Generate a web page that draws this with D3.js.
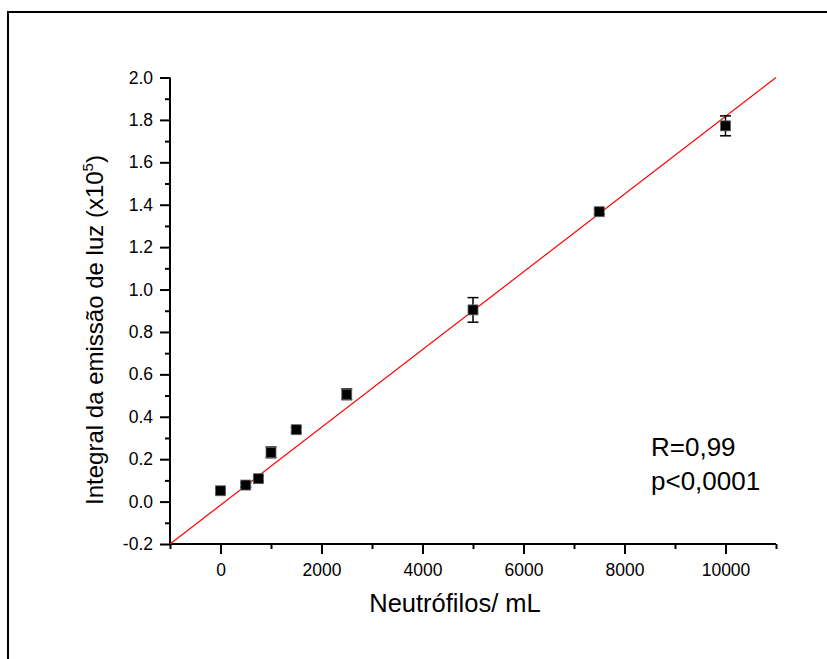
<!DOCTYPE html>
<html>
<head>
<meta charset="utf-8">
<script src="https://cdn.jsdelivr.net/npm/d3@7"></script>
<style>
  html, body { margin: 0; padding: 0; background: #fff; }
  svg { display: block; }
  text { font-family: "Liberation Sans", Arial, sans-serif; fill: #000; }
</style>
</head>
<body>
<svg id="chart" width="827" height="659"></svg>
<script>
// ---- Data ----
const neutrophils = [0, 500, 750, 1000, 1500, 2500, 5000, 7500, 10000];
const lightIntegral = [0.051, 0.078, 0.108, 0.232, 0.339, 0.506, 0.904, 1.367, 1.772];
const lightError = [0.010, 0.010, 0.012, 0.025, 0.012, 0.025, 0.058, 0.012, 0.047];
const fitX = [-1000, 11000];
const fitY = [-0.2, 2.0];
const xMajorTicks = [0, 2000, 4000, 6000, 8000, 10000];
const xMinorTicks = [-1000, 1000, 3000, 5000, 7000, 9000, 11000];
const yMajorTicks = [-0.2, 0.0, 0.2, 0.4, 0.6, 0.8, 1.0, 1.2, 1.4, 1.6, 1.8, 2.0];
const yMinorTicks = [-0.1, 0.1, 0.3, 0.5, 0.7, 0.9, 1.1, 1.3, 1.5, 1.7, 1.9];
const statsText = ["R=0,99", "p<0,0001"];

// ---- Layout ----
const svg = d3.select("#chart");
const x = d3.scaleLinear().domain([-1000, 11000]).range([170, 776]);
const y = d3.scaleLinear().domain([-0.2, 2.0]).range([544, 77.5]);

// frame (top & left border only)
svg.append("line").attr("x1", 8).attr("x2", 827).attr("y1", 12).attr("y2", 12)
  .attr("stroke", "#000").attr("stroke-width", 2);
svg.append("line").attr("x1", 8).attr("x2", 8).attr("y1", 11).attr("y2", 659)
  .attr("stroke", "#000").attr("stroke-width", 2);

// X axis
const xAxisG = svg.append("g").attr("transform", "translate(0,544)");
xAxisG.call(d3.axisBottom(x).tickValues(xMajorTicks).tickSize(10).tickPadding(10)
  .tickFormat(d => String(d)));
xAxisG.append("g").call(d3.axisBottom(x).tickValues(xMinorTicks).tickSize(5).tickFormat(""))
  .select(".domain").remove();
xAxisG.selectAll(".domain").attr("stroke-width", 2).attr("d", "M" + x.range()[0] + ",0H" + x.range()[1]);
xAxisG.selectAll(".tick line").attr("stroke-width", 2);
xAxisG.selectAll("text").style("font-size", "17.5px").style("font-family", "'Liberation Sans', Arial, sans-serif");

// Y axis
const yAxisG = svg.append("g").attr("transform", "translate(170,0)");
yAxisG.call(d3.axisLeft(y).tickValues(yMajorTicks).tickSize(10).tickPadding(7)
  .tickFormat(d => d.toFixed(1)));
yAxisG.append("g").call(d3.axisLeft(y).tickValues(yMinorTicks).tickSize(5).tickFormat(""))
  .select(".domain").remove();
yAxisG.selectAll(".domain").attr("stroke-width", 2).attr("d", "M0," + y.range()[0] + "V" + y.range()[1]);
yAxisG.selectAll(".tick line").attr("stroke-width", 2);
yAxisG.selectAll("text").style("font-size", "17.5px").style("font-family", "'Liberation Sans', Arial, sans-serif");

// Fit line
svg.append("line")
  .attr("x1", x(fitX[0])).attr("y1", y(fitY[0]))
  .attr("x2", x(fitX[1])).attr("y2", y(fitY[1]))
  .attr("stroke", "#ff0000").attr("stroke-width", 1.2);

// Data
const pts = neutrophils.map((v, i) => ({ x: v, y: lightIntegral[i], e: lightError[i] }));
const eg = svg.append("g").attr("stroke", "#000").attr("stroke-width", 1.5);
pts.forEach(p => {
  const cx = x(p.x), yt = y(p.y + p.e), yb = y(p.y - p.e);
  eg.append("line").attr("x1", cx).attr("x2", cx).attr("y1", yt).attr("y2", yb);
  eg.append("line").attr("x1", cx - 5.5).attr("x2", cx + 5.5).attr("y1", yt).attr("y2", yt);
  eg.append("line").attr("x1", cx - 5.5).attr("x2", cx + 5.5).attr("y1", yb).attr("y2", yb);
});
svg.append("g").selectAll("rect").data(pts).join("rect")
  .attr("x", d => x(d.x) - 5).attr("y", d => y(d.y) - 5)
  .attr("width", 10).attr("height", 10)
  .attr("fill", "#000").attr("stroke", "#666").attr("stroke-width", 0.8);

// Axis titles
svg.append("text").attr("x", 455).attr("y", 612).attr("text-anchor", "middle")
  .style("font-size", "25.5px").text("Neutrófilos/ mL");

const yl = svg.append("text").attr("transform", "translate(103,330) rotate(-90)")
  .attr("text-anchor", "middle").style("font-size", "24px");
yl.append("tspan").text("Integral da emissão de luz (x10");
yl.append("tspan").attr("dy", -10).style("font-size", "15px").text("5");
yl.append("tspan").attr("dy", 10).text(")");

// Stats text
svg.append("text").attr("x", 651).attr("y", 456).style("font-size", "26px").text(statsText[0]);
svg.append("text").attr("x", 651).attr("y", 490).style("font-size", "26px").text(statsText[1]);
</script>
</body>
</html>
